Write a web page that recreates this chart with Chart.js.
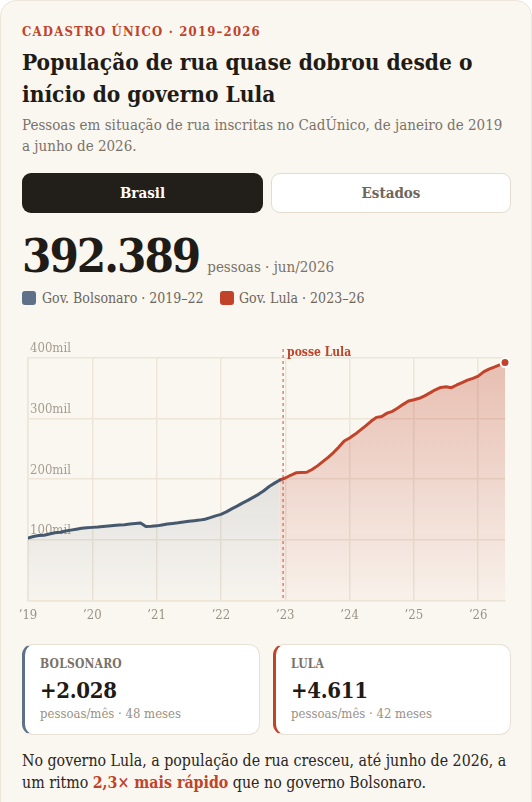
<!DOCTYPE html>
<html lang="pt-BR">
<head>
<meta charset="utf-8">
<script src="https://cdn.jsdelivr.net/npm/chart.js@4.4.1/dist/chart.umd.min.js"></script>
<style>
html,body{margin:0;padding:0;background:#ffffff;}
body{width:532px;height:802px;overflow:hidden;position:relative;font-family:"DejaVu Serif Condensed","DejaVu Serif",serif;color:#1f1b16;}
.card{position:absolute;left:0;top:0;width:530px;height:820px;background:#faf7f1;border:1px solid #ece6db;border-radius:16px;}
.abs{position:absolute;white-space:nowrap;}
.kicker{left:22px;top:22px;font-size:13px;line-height:20px;font-weight:bold;letter-spacing:1.2px;color:#c0432a;}
.title{left:22px;top:46px;font-size:22.5px;line-height:32px;font-weight:bold;color:#1f1b16;}
.sub{left:22px;top:115px;font-size:15px;line-height:21px;color:#7a7268;}
.btn{position:absolute;top:173px;height:40px;border-radius:9px;box-sizing:border-box;display:flex;align-items:center;justify-content:center;font-size:15px;font-weight:bold;}
.b1{left:22px;width:241px;background:#221f1b;color:#fff;}
.b2{left:271px;width:240px;background:#fff;border:1px solid #e3dccf;color:#6e665c;}
.big{left:22px;top:231px;line-height:50px;}
.big .n{font-size:47px;font-weight:bold;letter-spacing:-2px;color:#1f1b16;}
.big .u{font-size:15px;color:#7a7268;margin-left:8px;}
.leg{top:289px;font-size:14px;line-height:18px;color:#6e665c;}
.sq{position:absolute;top:291px;width:14px;height:14px;border-radius:3px;}
.kc{position:absolute;top:644px;width:238px;height:91px;background:#fff;border:1px solid #e8e1d5;border-radius:11px;box-sizing:border-box;}
.kc .l{position:absolute;left:15px;top:12px;font-size:12px;font-weight:bold;letter-spacing:0.2px;color:#7a7268;}
.kc .v{position:absolute;left:15px;top:32px;font-size:22px;font-weight:bold;letter-spacing:-0.3px;color:#1f1b16;}
.kc .s{position:absolute;left:15px;top:61px;font-size:13px;color:#9a9184;white-space:nowrap;}
.foot{left:22px;top:750px;font-size:15.8px;line-height:22px;color:#2b2620;}
.foot b{color:#c0432a;}
#wrap{position:absolute;left:0;top:330px;width:532px;height:310px;}
</style>
</head>
<body>
<div class="card"></div>
<div class="abs kicker">CADASTRO ÚNICO · 2019–2026</div>
<div class="abs title">População de rua quase dobrou desde o<br>início do governo Lula</div>
<div class="abs sub">Pessoas em situação de rua inscritas no CadÚnico, de janeiro de 2019<br>a junho de 2026.</div>
<div class="btn b1">Brasil</div>
<div class="btn b2">Estados</div>
<div class="abs big"><span class="n">392.389</span><span class="u">pessoas · jun/2026</span></div>
<div class="sq" style="left:22px;background:#5e7189;"></div>
<div class="abs leg" style="left:42px;">Gov. Bolsonaro · 2019–22</div>
<div class="sq" style="left:220px;background:#c0432a;"></div>
<div class="abs leg" style="left:239px;">Gov. Lula · 2023–26</div>
<div id="wrap"><canvas id="c" width="532" height="310"></canvas></div>
<div class="kc" style="left:22px;border-left:3px solid #5e7189;">
  <div class="l">BOLSONARO</div><div class="v">+2.028</div><div class="s">pessoas/mês · 48 meses</div>
</div>
<div class="kc" style="left:273px;border-left:3px solid #c0432a;">
  <div class="l">LULA</div><div class="v">+4.611</div><div class="s">pessoas/mês · 42 meses</div>
</div>
<div class="abs foot">No governo Lula, a população de rua cresceu, até junho de 2026, a<br>um ritmo <b>2,3× mais rápido</b> que no governo Bolsonaro.</div>

<script>
// ---- data ----
const yearLabels = ["’19","’20","’21","’22","’23","’24","’25","’26"];
const yTickValues = [0, 100000, 200000, 300000, 400000];
const yTickLabels = ["", "100mil", "200mil", "300mil", "400mil"];
// monthly, jan/2019 – dez/2022
const bolsonaroMonthly = [
  103000,105500,107000,107500,109500,111500,112500,114500,116000,117500,119000,120000,
  120500,121000,122000,122800,123500,124300,125000,126000,127000,127800,122000,122300,
  123000,124500,126000,127000,128000,129300,130500,131500,132500,134000,136500,139500,
  142000,146000,151000,155500,160500,165000,170000,175000,181000,188000,193500,198727
];
// monthly, jan/2023 – jun/2026
const lulaMonthly = [
  202000,206500,210500,211000,211500,216000,222000,229000,236000,244000,253000,263000,
  268000,274000,281000,288000,295500,302000,303500,309000,312000,317500,323500,329000,
  331000,333500,337500,342500,347500,351500,352500,351000,355500,359500,363500,366500,
  370000,377000,381500,385000,388500,392389
];
const posseMonth = 47.6; // marcador "posse Lula"
const posseLabel = "posse Lula";

// ---- build ----
const FONT = '"DejaVu Serif Condensed","DejaVu Serif",serif';
const RED = '#c0432a', SLATE = '#46586d', GRID = '#ece5d8';
const bolsPts = bolsonaroMonthly.map((v, i) => ({x: i, y: v}));
const lulaStart = bolsonaroMonthly.length - 1;
const lulaPts = [{x: lulaStart, y: bolsonaroMonthly[lulaStart]}]
  .concat(lulaMonthly.map((v, i) => ({x: lulaStart + 1 + i, y: v})));

function grad(ctx, rgb, a0, a1) {
  const ca = ctx.chart.chartArea;
  if (!ca) return 'rgba(' + rgb + ',' + a0 + ')';
  const g = ctx.chart.ctx.createLinearGradient(0, ca.top, 0, ca.bottom);
  g.addColorStop(0, 'rgba(' + rgb + ',' + a0 + ')');
  g.addColorStop(1, 'rgba(' + rgb + ',' + a1 + ')');
  return g;
}

const possePlugin = {
  id: 'posse',
  beforeDatasetsDraw(chart) {
    const {ctx, chartArea, scales} = chart;
    const x = scales.x.getPixelForValue(posseMonth);
    ctx.save();
    ctx.strokeStyle = 'rgba(205,95,75,0.7)';
    ctx.lineWidth = 1.6;
    ctx.setLineDash([3, 3]);
    ctx.beginPath();
    ctx.moveTo(x, chartArea.top - 9);
    ctx.lineTo(x, chartArea.bottom);
    ctx.stroke();
    ctx.restore();
  },
  afterDatasetsDraw(chart) {
    const {ctx, chartArea, scales} = chart;
    const x = scales.x.getPixelForValue(posseMonth);
    ctx.save();
    ctx.fillStyle = RED;
    ctx.font = 'bold 12px ' + FONT;
    ctx.textAlign = 'left';
    ctx.textBaseline = 'middle';
    ctx.fillText(posseLabel, x + 4, chartArea.top - 5);
    ctx.restore();
  }
};

Chart.defaults.font.family = FONT;
new Chart(document.getElementById('c'), {
  type: 'line',
  data: {
    datasets: [
      {
        label: 'Gov. Bolsonaro',
        data: bolsPts,
        borderColor: SLATE,
        borderWidth: 3,
        borderJoinStyle: 'round',
        borderCapStyle: 'round',
        tension: 0,
        pointRadius: 0,
        fill: 'origin',
        backgroundColor: (c) => grad(c, '100,108,118', 0.28, 0.02)
      },
      {
        label: 'Gov. Lula',
        data: lulaPts,
        borderColor: RED,
        borderWidth: 3,
        borderJoinStyle: 'round',
        borderCapStyle: 'round',
        tension: 0,
        pointRadius: (c) => c.dataIndex === lulaPts.length - 1 ? 4.5 : 0,
        pointBackgroundColor: RED,
        pointBorderColor: '#ffffff',
        pointBorderWidth: 2,
        fill: 'origin',
        clip: false,
        backgroundColor: (c) => grad(c, '192,67,42', 0.32, 0.03)
      }
    ]
  },
  options: {
    responsive: false,
    animation: false,
    devicePixelRatio: 1,
    layout: {padding: {left: 24, right: 27, top: 28, bottom: 10}},
    plugins: {legend: {display: false}, tooltip: {enabled: false}},
    scales: {
      x: {
        type: 'linear',
        min: 0,
        max: lulaStart + lulaMonthly.length,
        afterBuildTicks: (s) => { s.ticks = yearLabels.map((_, i) => ({value: i * 12})); },
        afterFit: (s) => { s.paddingLeft = 0; s.paddingRight = 0; },
        ticks: {
          autoSkip: false, maxRotation: 0, padding: 7,
          color: '#9b9285', font: {size: 13},
          callback: (v, i) => yearLabels[i]
        },
        grid: {color: GRID, lineWidth: 1.5, drawTicks: false},
        border: {color: GRID, width: 1.5}
      },
      y: {
        min: 0,
        max: 400000,
        afterBuildTicks: (s) => { s.ticks = yTickValues.map(v => ({value: v})); },
        afterFit: (s) => { s.paddingTop = 0; s.paddingBottom = 0; },
        ticks: {
          mirror: true, padding: 2, labelOffset: -9,
          color: '#a69d8f', font: {size: 13},
          callback: (v, i) => yTickLabels[i]
        },
        grid: {color: GRID, lineWidth: 1.5, drawTicks: false},
        border: {color: GRID, width: 1.5}
      }
    }
  },
  plugins: [possePlugin]
});
</script>
</body>
</html>
